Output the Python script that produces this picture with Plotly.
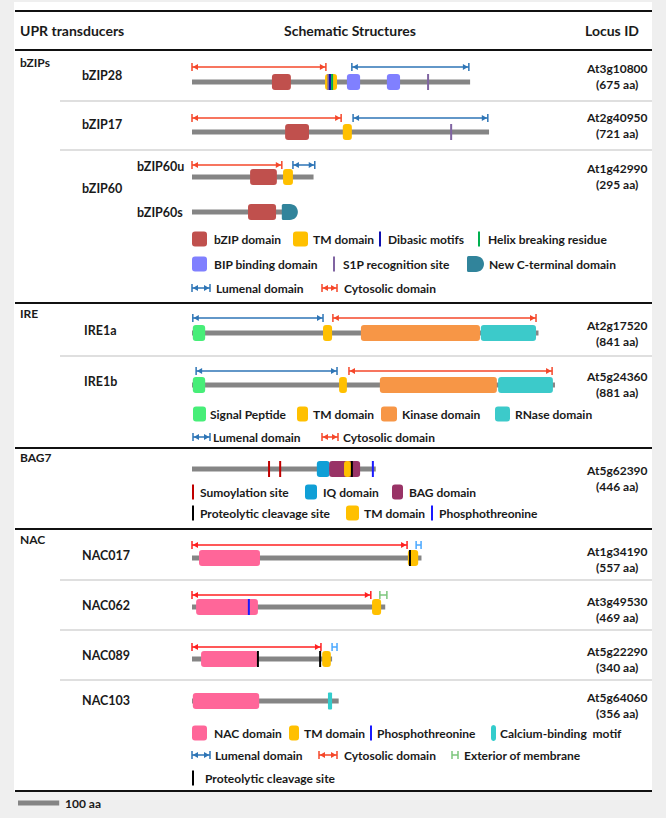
import plotly.graph_objects as go

# ---------------- data (amino-acid coordinates) ----------------
proteins = ['bZIP28', 'bZIP17', 'bZIP60u', 'bZIP60s', 'IRE1a', 'IRE1b',
            'BAG7', 'NAC017', 'NAC062', 'NAC089', 'NAC103']
lengths_aa = [675, 721, 295, 225, 841, 881, 446, 557, 469, 340, 356]

domains = {
    'bZIP28': [('bzip', 194, 240), ('tm', 323, 352), ('bip', 376, 408), ('bip', 473, 505)],
    'bZIP17': [('bzip', 226, 284), ('tm', 366, 388)],
    'bZIP60u': [('bzip', 141, 206), ('tm', 221, 245)],
    'bZIP60s': [('bzip', 136, 204), ('cterm', 218, 257)],
    'IRE1a': [('sp', 2, 32), ('tm', 318, 340), ('kinase', 410, 699), ('rnase', 701, 835)],
    'IRE1b': [('sp', 2, 32), ('tm', 357, 376), ('kinase', 456, 740), ('rnase', 743, 876)],
    'BAG7': [('iq', 303, 334), ('bag', 333, 408), ('tm', 369, 386)],
    'NAC017': [('nac', 17, 165), ('tm', 524, 549)],
    'NAC062': [('nac', 10, 160), ('tm', 437, 459)],
    'NAC089': [('nac', 22, 160), ('tm', 316, 337)],
    'NAC103': [('nac', 2, 163), ('calcium', 330, 340)],
}
sites = {
    'bZIP28': [('s1p', 573), ('s1p', 331), ('dibasic', 335), ('helix', 340)],
    'bZIP17': [('s1p', 629)],
    'BAG7': [('sumo', 187), ('sumo', 214), ('cleave', 388), ('phospho', 439)],
    'NAC017': [('cleave', 529)],
    'NAC062': [('phospho', 138)],
    'NAC089': [('cleave', 160), ('cleave', 311)],
}
topology = {
    'bZIP28': [('cyt', 0, 325), ('lum', 388, 672)],
    'bZIP17': [('cyt', 0, 362), ('lum', 391, 718)],
    'bZIP60u': [('cyt', 0, 218), ('lum', 245, 298)],
    'IRE1a': [('lum', 2, 318), ('cyt', 342, 835)],
    'IRE1b': [('lum', 10, 352), ('cyt', 381, 874)],
    'NAC017': [('cyt2', 0, 522), ('ext_b', 544, 556)],
    'NAC062': [('cyt2', 0, 434), ('ext_g', 456, 473)],
    'NAC089': [('cyt2', 0, 313), ('ext_b', 340, 352)],
}
locus_ids = ['At3g10800', 'At2g40950', 'At1g42990', 'At2g17520', 'At5g24360',
             'At5g62390', 'At1g34190', 'At3g49530', 'At5g22290', 'At5g64060']
locus_len = ['(675 aa)', '(721 aa)', '(295 aa)', '(841 aa)', '(881 aa)',
             '(446 aa)', '(557 aa)', '(469 aa)', '(340 aa)', '(356 aa)']
scale_bar_aa = 100

# ---------------- layout / style ----------------
W, H = 666, 818
K = 0.412          # px per aa
X0 = 192           # pixel of aa 0
FONT = 'Lato'

C = dict(bzip='#c0504d', tm='#ffc000', bip='#8080ff', s1p='#8064a2', cterm='#31849b',
         dibasic='#1010b0', helix='#00b050', sp='#47ee78', kinase='#f79646',
         rnase='#3ccaca', sumo='#c00000', iq='#109fd6', bag='#993366', cleave='#000000',
         phospho='#1a1aff', nac='#ff6699', calcium='#33cccc', lum='#2e75b6',
         cyt='#f5472a', cyt2='#ff2020', ext_g='#7cc67c', ext_b='#4aa8ff',
         backbone='#858585')

row_y = {'bZIP28': 82, 'bZIP17': 132, 'bZIP60u': 177, 'bZIP60s': 212,
         'IRE1a': 333, 'IRE1b': 385, 'BAG7': 469, 'NAC017': 558,
         'NAC062': 607, 'NAC089': 659, 'NAC103': 701}
arrow_dy = {'bZIP28': 15, 'bZIP17': 14, 'bZIP60u': 12, 'IRE1a': 15, 'IRE1b': 14,
            'NAC017': 13, 'NAC062': 12, 'NAC089': 12}

shapes = []
annotations = []


def px2paper(px):
    return px / W


def rrect(x0, x1, yc, h, r, color, xref='x', k=K):
    rx = r / k
    ry = r
    y0, y1 = yc - h / 2, yc + h / 2
    p = (f"M{x0+rx},{y0} L{x1-rx},{y0} Q{x1},{y0} {x1},{y0+ry} L{x1},{y1-ry} "
         f"Q{x1},{y1} {x1-rx},{y1} L{x0+rx},{y1} Q{x0},{y1} {x0},{y1-ry} "
         f"L{x0},{y0+ry} Q{x0},{y0} {x0+rx},{y0} Z")
    shapes.append(dict(type='path', path=p, xref=xref, yref='y', fillcolor=color,
                       line=dict(width=0)))


def dshape(x0, x1, yc, h, color, xref='x', k=K):
    ry = h / 2
    rx = ry / k
    xm = x1 - rx
    y0, y1 = yc - ry, yc + ry
    kk = 0.5523
    r0 = 1.5 / k
    p = (f"M{x0+r0},{y0} L{xm},{y0} C{xm+kk*rx},{y0} {x1},{yc-kk*ry} {x1},{yc} "
         f"C{x1},{yc+kk*ry} {xm+kk*rx},{y1} {xm},{y1} L{x0+r0},{y1} "
         f"Q{x0},{y1} {x0},{y1-1.5} L{x0},{y0+1.5} Q{x0},{y0} {x0+r0},{y0} Z")
    shapes.append(dict(type='path', path=p, xref=xref, yref='y', fillcolor=color,
                       line=dict(width=0)))


def vline(x, yc, h, color, width=2, xref='x'):
    shapes.append(dict(type='line', x0=x, x1=x, y0=yc - h / 2, y1=yc + h / 2,
                       xref=xref, yref='y', line=dict(color=color, width=width)))


def hline(x0, x1, y, color, width, xref='x'):
    shapes.append(dict(type='line', x0=x0, x1=x1, y0=y, y1=y, xref=xref, yref='y',
                       line=dict(color=color, width=width)))


def arrow(x0, x1, y, color, xref='x', k=K, heads=True):
    hline(x0, x1, y, color, 1.5, xref)
    vline(x0, y, 8, color, 1.5, xref)
    vline(x1, y, 8, color, 1.5, xref)
    if heads:
        tip = 0.8 / k
        base = 6 / k
        for xe, s in ((x0, 1), (x1, -1)):
            xt = xe + s * tip
            xb = xe + s * base
            p = f"M{xt},{y} L{xb},{y-3} L{xb},{y+3} Z"
            shapes.append(dict(type='path', path=p, xref=xref, yref='y',
                               fillcolor=color, line=dict(width=0)))


def txt(px, y, s, size=12, anchor='left', color='#1a1a1a'):
    annotations.append(dict(x=px2paper(px), y=y, xref='paper', yref='y', text=s,
                            showarrow=False, xanchor=anchor, yanchor='middle',
                            font=dict(family=FONT, size=size, color=color, weight='bold')))


# white panel
shapes.append(dict(type='rect', x0=px2paper(14), x1=px2paper(652), y0=2, y1=792,
                   xref='paper', yref='y', fillcolor='white', line=dict(width=0),
                   layer='below'))

# table rules
for y in [11, 50, 303, 448, 529, 791]:
    hline(px2paper(15), px2paper(652), y, '#111111', 2, 'paper')
for y in [101, 150, 356, 580, 630, 680]:
    hline(px2paper(60), px2paper(652), y, '#d4d4d4', 1.5, 'paper')

# header
txt(18, 30, 'UPR transducers', 14)
txt(350, 30, 'Schematic Structures', 14, 'center')
txt(641, 30, 'Locus ID', 14, 'right')

# group labels
txt(18, 62, 'bZIPs')
txt(18, 313, 'IRE')
txt(18, 457, 'BAG7')
txt(18, 539, 'NAC')

name_pos = {'bZIP28': (80, 75), 'bZIP17': (80, 124), 'bZIP60': (80, 188),
            'bZIP60u': (135, 166), 'bZIP60s': (135, 212), 'IRE1a': (82, 330),
            'IRE1b': (82, 381), 'NAC017': (80, 555), 'NAC062': (80, 605),
            'NAC089': (80, 655), 'NAC103': (80, 700)}
for n, (xp, yp) in name_pos.items():
    txt(xp, yp, n, 12.5)

locus_y = [76, 125, 176, 333, 384, 478, 559, 609, 659, 705]
for lid, ll, yy in zip(locus_ids, locus_len, locus_y):
    txt(617, yy - 8, lid, 12, 'center')
    txt(617, yy + 8, ll, 12, 'center')

# proteins
for name, L in zip(proteins, lengths_aa):
    y = row_y[name]
    hline(0, L, y, C['backbone'], 5)
    for d, a, b in domains.get(name, []):
        if d == 'cterm':
            dshape(a, b, y, 16, C[d])
        elif d == 'calcium':
            rrect(a, b, y, 17, 1, C[d])
        else:
            rrect(a, b, y, 16, 3, C[d])
    for s, p in sites.get(name, []):
        vline(p, y, 16, C[s], 2)
    for t, a, b in topology.get(name, []):
        arrow(a, b, y - arrow_dy[name], C[t], heads=not t.startswith('ext'))

# ---- legends (paper coords, pixel-based) ----
PK = W  # px per paper unit


def lsq(x0, x1, y, color, h=15):
    rrect(px2paper(x0), px2paper(x1), y, h, 3, color, 'paper', PK)


def lline(x, y, color, h=15):
    vline(px2paper(x), y, h, color, 2, 'paper')


def larrow(x0, x1, y, color, heads=True):
    arrow(px2paper(x0), px2paper(x1), y, color, 'paper', PK, heads)


# bZIP legend
lsq(192, 207, 239, C['bzip']); txt(212, 239, 'bZIP domain')
lsq(293, 308, 239, C['tm']); txt(311, 239, 'TM domain')
lline(380, 239, C['dibasic']); txt(386, 239, 'Dibasic motifs')
lline(479, 239, C['helix']); txt(486, 239, 'Helix breaking residue')
lsq(192, 207, 264, C['bip']); txt(212, 264, 'BIP binding domain')
lline(334, 264, C['s1p']); txt(341, 264, 'S1P recognition site')
dshape(px2paper(467), px2paper(484), 264, 16, C['cterm'], 'paper', PK)
txt(487, 264, 'New C-terminal domain')
larrow(192, 210, 288, C['lum']); txt(214, 288, 'Lumenal domain')
larrow(322, 337, 288, C['cyt']); txt(342, 288, 'Cytosolic domain')

# IRE legend
lsq(193, 206, 414, C['sp']); txt(208, 414, 'Signal Peptide')
lsq(297, 308, 414, C['tm']); txt(311, 414, 'TM domain')
lsq(381, 397, 414, C['kinase']); txt(400, 414, 'Kinase domain')
lsq(495, 510, 414, C['rnase']); txt(513, 414, 'RNase domain')
larrow(193, 210, 437, C['lum']); txt(211, 437, 'Lumenal domain')
larrow(322, 338, 437, C['cyt']); txt(341, 437, 'Cytosolic domain')

# BAG7 legend
lline(193, 492, C['sumo']); txt(198, 492, 'Sumoylation site')
lsq(305, 317, 492, C['iq']); txt(321, 492, 'IQ domain')
lsq(392, 403, 492, C['bag']); txt(407, 492, 'BAG domain')
lline(193, 513, C['cleave']); txt(198, 513, 'Proteolytic cleavage site')
lsq(346, 359, 513, C['tm']); txt(362, 513, 'TM domain')
lline(432, 513, C['phospho']); txt(437, 513, 'Phosphothreonine')

# NAC legend
lsq(192, 207, 733, C['nac']); txt(212, 733, 'NAC domain')
lsq(289, 299, 733, C['tm']); txt(302, 733, 'TM domain')
lline(371, 733, C['phospho']); txt(375, 733, 'Phosphothreonine')
lsq(491, 496, 733, C['calcium'], 16); txt(498, 733, 'Calcium-binding  motif')
larrow(192, 210, 755, C['lum']); txt(213, 755, 'Lumenal domain')
larrow(319, 337, 755, C['cyt']); txt(342, 755, 'Cytosolic domain')
larrow(452, 458, 755, C['ext_g'], heads=False); txt(462, 755, 'Exterior of membrane')
lline(193, 778, C['cleave']); txt(203, 778, 'Proteolytic cleavage site')

# scale bar (100 aa in axis units)
sb0 = (18 - X0) / K
hline(sb0, sb0 + scale_bar_aa, 803, C['backbone'], 5)
txt(63, 803, '100 aa')

fig = go.Figure(go.Scatter(x=[0], y=[0], mode='markers', marker=dict(opacity=0),
                           hoverinfo='skip'))
fig.update_layout(
    width=W, height=H, margin=dict(l=0, r=0, t=0, b=0),
    paper_bgcolor='#efefef', plot_bgcolor='rgba(0,0,0,0)',
    showlegend=False, shapes=shapes, annotations=annotations,
    xaxis=dict(range=[-X0 / K, (W - X0) / K], visible=False, fixedrange=True),
    yaxis=dict(range=[H, 0], visible=False, fixedrange=True),
)
fig.write_html('out.html', config={'displayModeBar': False},
               post_script="document.body.style.margin='0';document.body.style.overflow='hidden';")
